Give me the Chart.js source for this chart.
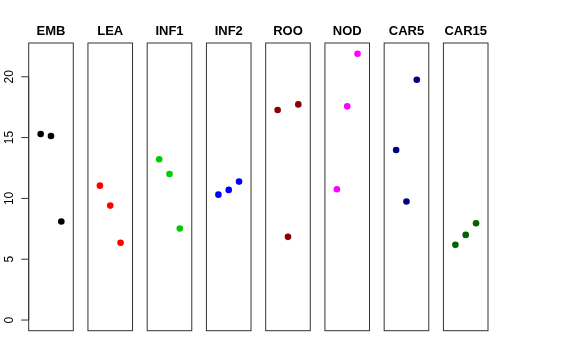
<!DOCTYPE html>
<html>
<head>
<meta charset="utf-8">
<script src="https://cdn.jsdelivr.net/npm/chart.js@4/dist/chart.umd.min.js"></script>
<style>
  html, body { margin: 0; padding: 0; background: #fff; }
  #wrap { width: 576px; height: 360px; }
</style>
</head>
<body>
<div id="wrap"><canvas id="chart" width="576" height="360"></canvas></div>
<script>
// panel names and colours
const panels = ["EMB", "LEA", "INF1", "INF2", "ROO", "NOD", "CAR5", "CAR15"];
const colors = ["#000000", "#FF0000", "#00CD00", "#0000FF", "#8B0000", "#FF00FF", "#000080", "#006400"];

// three replicates per panel
const embValues = [15.3, 15.13, 8.1];
const leaValues = [11.05, 9.41, 6.35];
const inf1Values = [13.22, 12.01, 7.52];
const inf2Values = [10.31, 10.7, 11.38];
const rooValues = [17.27, 6.84, 17.73];
const nodValues = [10.75, 17.57, 21.89];
const car5Values = [13.98, 9.74, 19.75];
const car15Values = [6.18, 7.0, 7.96];

const yTicks = [0, 5, 10, 15, 20];

const allValues = [embValues, leaValues, inf1Values, inf2Values, rooValues, nodValues, car5Values, car15Values];

// each panel uses x in [0, 4] (+4% pad), panels repeat every PERIOD units
const PERIOD = 5.74;
const PAD = 0.16;

const datasets = allValues.map((vals, k) => ({
  label: panels[k],
  data: vals.map((v, i) => ({ x: k * PERIOD + i + 1, y: v })),
  backgroundColor: colors[k],
  borderColor: colors[k],
  pointRadius: 3.3,
  pointHoverRadius: 3.3,
  borderWidth: 0,
}));

const panelPlugin = {
  id: "panels",
  afterDatasetsDraw(chart) {
    const { ctx, chartArea, scales } = chart;
    const x = scales.x, y = scales.y;
    ctx.save();
    ctx.strokeStyle = "#333";
    ctx.lineWidth = 1;
    panels.forEach((name, k) => {
      const l = x.getPixelForValue(k * PERIOD - PAD);
      const r = x.getPixelForValue(k * PERIOD + 4 + PAD);
      ctx.strokeRect(l, chartArea.top, r - l, chartArea.bottom - chartArea.top);
      ctx.fillStyle = "#000";
      ctx.font = "bold 13px 'Liberation Sans', Arial, sans-serif";
      ctx.textAlign = "center";
      ctx.textBaseline = "alphabetic";
      ctx.fillText(name, x.getPixelForValue(k * PERIOD + 2), 34.5);
    });

    // left y axis on the first panel
    const ax = x.getPixelForValue(-PAD);
    ctx.beginPath();
    ctx.moveTo(ax, y.getPixelForValue(yTicks[0]));
    ctx.lineTo(ax, y.getPixelForValue(yTicks[yTicks.length - 1]));
    yTicks.forEach((t) => {
      const py = y.getPixelForValue(t);
      ctx.moveTo(ax - 7.5, py);
      ctx.lineTo(ax, py);
    });
    ctx.stroke();
    ctx.font = "12px 'Liberation Sans', Arial, sans-serif";
    ctx.textAlign = "center";
    ctx.textBaseline = "middle";
    yTicks.forEach((t) => {
      const py = y.getPixelForValue(t);
      ctx.save();
      ctx.translate(9.5, py);
      ctx.rotate(-Math.PI / 2);
      ctx.fillText(String(t), 0, 0);
      ctx.restore();
    });
    ctx.restore();
  },
};

new Chart(document.getElementById("chart").getContext("2d"), {
  type: "scatter",
  data: { datasets },
  options: {
    responsive: false,
    animation: false,
    layout: { padding: { left: 28.7, right: 88, top: 43, bottom: 29.3 } },
    plugins: { legend: { display: false }, tooltip: { enabled: false } },
    scales: {
      x: { display: false, min: -PAD, max: 7 * PERIOD + 4 + PAD },
      y: { display: false, min: -0.876, max: 22.776 },
    },
  },
  plugins: [panelPlugin],
});
</script>
</body>
</html>
